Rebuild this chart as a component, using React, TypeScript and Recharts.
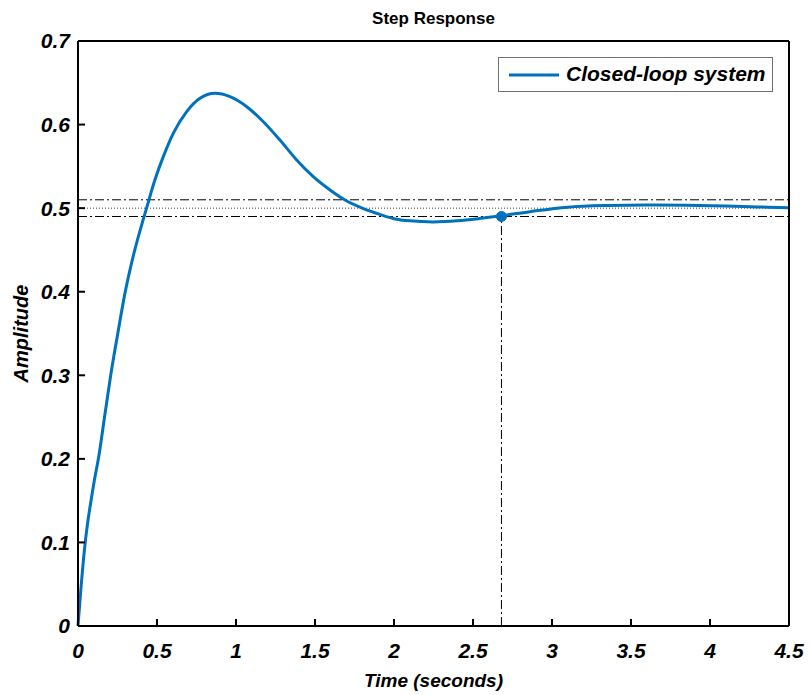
import { LineChart, Line, XAxis, YAxis, ReferenceLine, ReferenceDot, Legend, Label } from 'recharts'

// step response samples
const timeS = [0, 0.02, 0.04, 0.06, 0.085, 0.107, 0.129, 0.168, 0.207, 0.25, 0.297, 0.35, 0.409, 0.435, 0.477, 0.54, 0.603, 0.688, 0.772, 0.867, 0.962, 1.068, 1.173, 1.278, 1.384, 1.489, 1.595, 1.69, 1.806, 1.911, 2.0, 2.1, 2.249, 2.4, 2.55, 2.667, 2.86, 3.1, 3.35, 3.6, 3.85, 4.1, 4.3, 4.5]
const amplitude = [0, 0.048, 0.09, 0.122, 0.153, 0.178, 0.2, 0.25, 0.3, 0.348, 0.398, 0.443, 0.484, 0.5006, 0.528, 0.5616, 0.5895, 0.6155, 0.6314, 0.6374, 0.6334, 0.6214, 0.6034, 0.5815, 0.5576, 0.5376, 0.5217, 0.5097, 0.4995, 0.4925, 0.4874, 0.4848, 0.4835, 0.4848, 0.4878, 0.4906, 0.4958, 0.5012, 0.5032, 0.5038, 0.5034, 0.5025, 0.5015, 0.5006]

const xTicks = [0, 0.5, 1, 1.5, 2, 2.5, 3, 3.5, 4, 4.5]
const yTicks = [0, 0.1, 0.2, 0.3, 0.4, 0.5, 0.6, 0.7]

const finalValue = 0.5
const bandUpper = 0.51
const bandLower = 0.49
const settlingTime = 2.68
const settlingValue = 0.49

const seriesName = 'Closed-loop system'
const blue = '#0072BD'
const font = '"Liberation Sans", Arial, sans-serif'

const data = timeS.map((t, i) => ({ t, v: amplitude[i] }))

const tickStyle = { fill: '#000', fontSize: 21, fontWeight: 'bold', fontStyle: 'italic', fontFamily: font }
const dashDot = '9 3 2 3'

function renderLegend() {
  return (
    <div style={{ position: 'relative', width: 275, height: 35, boxSizing: 'border-box', border: '1px solid #707070', background: '#fff', fontFamily: font }}>
      <svg width={60} height={33} style={{ position: 'absolute', left: 0, top: 0 }}>
        <line x1={10} x2={62} y1={17} y2={17} stroke={blue} strokeWidth={3} />
      </svg>
      <span style={{ position: 'absolute', left: 67, top: 4, fontSize: 21, fontWeight: 'bold', fontStyle: 'italic', color: '#000', whiteSpace: 'nowrap' }}>
        {seriesName}
      </span>
    </div>
  )
}

export default function App() {
  return (
    <div style={{ position: 'absolute', left: 0, top: 0, background: '#fff' }}>
      <LineChart width={811} height={695} data={data} margin={{ top: 0, right: 0, bottom: 0, left: 0 }}>
        <XAxis
          dataKey="t" type="number" domain={[0, 4.5]} ticks={xTicks} interval={0}
          height={69} tickSize={-7} tickMargin={24} tick={tickStyle}
          axisLine={{ stroke: '#000', strokeWidth: 2 }} tickLine={{ stroke: '#000', strokeWidth: 2 }}
        >
          <Label
            content={({ viewBox }: any) => (
              <text x={viewBox.x + viewBox.width / 2} y={687} textAnchor="middle"
                fontSize={19} fontWeight="bold" fontStyle="italic" fontFamily={font} fill="#000">Time (seconds)</text>
            )}
          />
        </XAxis>
        <XAxis
          xAxisId="top" orientation="top" dataKey="t" type="number" domain={[0, 4.5]} ticks={xTicks} interval={0}
          height={41} tickSize={-7} tick={false}
          axisLine={{ stroke: '#000', strokeWidth: 2 }} tickLine={{ stroke: '#000', strokeWidth: 2 }}
        >
          <Label
            content={({ viewBox }: any) => (
              <text x={viewBox.x + viewBox.width / 2} y={24} textAnchor="middle"
                fontSize={17} fontWeight="bold" fontFamily={font} fill="#000">Step Response</text>
            )}
          />
        </XAxis>
        <YAxis
          type="number" domain={[0, 0.7]} ticks={yTicks} interval={0}
          width={78} tickSize={-7} tickMargin={15} tick={tickStyle}
          axisLine={{ stroke: '#000', strokeWidth: 2 }} tickLine={{ stroke: '#000', strokeWidth: 2 }}
        >
          <Label
            content={({ viewBox }: any) => {
              const cx = viewBox.x + 21
              const cy = viewBox.y + viewBox.height / 2
              return (
                <text x={cx} y={cy} transform={`rotate(-90 ${cx} ${cy})`} textAnchor="middle" dominantBaseline="central"
                  fontSize={20} fontWeight="bold" fontStyle="italic" fontFamily={font} fill="#000">Amplitude</text>
              )
            }}
          />
        </YAxis>
        <YAxis
          yAxisId="right" orientation="right" type="number" domain={[0, 0.7]} ticks={yTicks} interval={0}
          width={22} tickSize={-7} tick={false}
          axisLine={{ stroke: '#000', strokeWidth: 2 }} tickLine={{ stroke: '#000', strokeWidth: 2 }}
        />
        <ReferenceLine y={bandUpper} stroke="#000" strokeWidth={1} strokeDasharray={dashDot} />
        <ReferenceLine y={finalValue} stroke="#444" strokeWidth={1} strokeDasharray="1 2" />
        <ReferenceLine y={bandLower} stroke="#000" strokeWidth={1} strokeDasharray={dashDot} />
        <ReferenceLine
          segment={[{ x: settlingTime, y: 0 }, { x: settlingTime, y: settlingValue }]}
          stroke="#000" strokeWidth={1} strokeDasharray={dashDot}
        />
        <Legend
          verticalAlign="middle" content={renderLegend}
          wrapperStyle={{ position: 'absolute', left: 498, top: 57, width: 275, height: 35 }}
        />
        <Line
          dataKey="v" name={seriesName} type="monotone" stroke={blue} strokeWidth={3}
          dot={false} activeDot={false} isAnimationActive={false}
        />
        <ReferenceDot x={settlingTime} y={settlingValue} r={5} fill={blue} stroke={blue} />
      </LineChart>
    </div>
  )
}
